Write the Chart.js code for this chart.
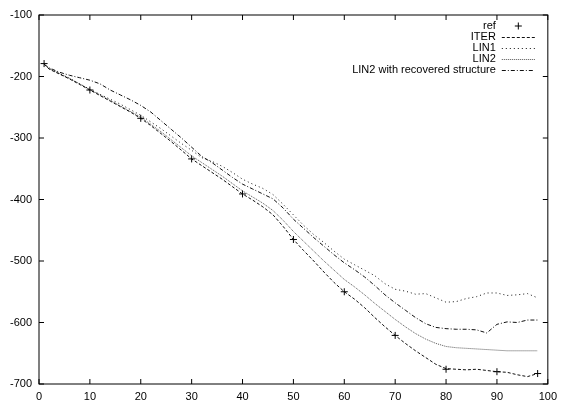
<!DOCTYPE html>
<html>
<head>
<meta charset="utf-8">
<script src="https://cdn.jsdelivr.net/npm/chart.js@4.4.1/dist/chart.umd.min.js"></script>
<style>
  html, body { margin: 0; padding: 0; background: #fff; }
</style>
</head>
<body>
<canvas id="chart" width="563" height="400"></canvas>
<script>
// x positions shared by the four curves
const xs = [1, 2, 4, 6, 8, 10, 12, 14, 16, 18, 20, 22, 24, 26, 28, 30, 32, 34, 36, 38, 40,
  42, 44, 46, 48, 50, 52, 54, 56, 58, 60, 62, 64, 66, 68, 70, 72, 74, 76, 78, 80,
  82, 84, 86, 88, 90, 92, 94, 96, 98];

const iterY = [-180, -188, -196, -204, -213, -222, -231, -240, -249, -258, -268, -280, -293, -306, -320, -334, -345, -356, -367, -379, -391,
  -401, -412, -425, -444, -465, -483, -500, -518, -535, -550, -562, -576, -592, -607, -621, -634, -646, -657, -668, -675,
  -676, -677, -676, -678, -680, -681, -685, -688, -683];

const lin1Y = [-180, -187, -195, -203, -212, -221, -229, -237, -245, -254, -263, -274, -285, -297, -309, -320, -332, -338, -346, -356, -367,
  -375, -382, -392, -408, -425, -442, -457, -470, -484, -497, -506, -515, -524, -537, -546, -549, -554, -553, -560, -567,
  -566, -561, -558, -552, -552, -556, -555, -553, -560];

const lin2Y = [-180, -187, -195, -203, -212, -221, -230, -239, -248, -257, -266, -278, -290, -303, -316, -329, -340, -351, -362, -374, -386,
  -396, -406, -418, -434, -452, -468, -484, -500, -515, -530, -542, -555, -569, -582, -595, -607, -618, -627, -634, -639,
  -641, -642, -643, -644, -645, -646, -646, -646, -646];

const lin2rY = [-180, -186, -193, -198, -202, -206, -212, -222, -230, -238, -247, -258, -272, -286, -300, -315, -330, -340, -352, -364, -375,
  -383, -391, -399, -414, -432, -447, -462, -476, -490, -503, -514, -526, -540, -555, -568, -580, -592, -602, -608, -610,
  -611, -611, -612, -617, -603, -599, -600, -596, -596];

const refX = [1, 10, 20, 30, 40, 50, 60, 70, 80, 90, 98];
const refY = [-179, -222, -268, -334, -391, -465, -550, -621, -676, -680, -683];

const xTicks = [0, 10, 20, 30, 40, 50, 60, 70, 80, 90, 100];
const yTicks = [-700, -600, -500, -400, -300, -200, -100];

const FONT = '"Liberation Sans", Arial, Helvetica, sans-serif';

function pts(xv, yv) { return xv.map((x, i) => ({ x, y: yv[i] })); }

function lineSet(label, data, dash, color) {
  return { label, data, borderColor: color, borderWidth: 1, borderDash: dash, pointRadius: 0, fill: false, tension: 0 };
}

const datasets = [
  { label: "ref", data: pts(refX, refY), showLine: false, pointStyle: "cross", pointRadius: 3.5, borderColor: "#000", borderWidth: 1 },
  lineSet("ITER", pts(xs, iterY), [3, 2], "#111"),
  lineSet("LIN1", pts(xs, lin1Y), [1, 3], "#111"),
  lineSet("LIN2", pts(xs, lin2Y), [1, 1], "#555"),
  lineSet("LIN2 with recovered structure", pts(xs, lin2rY), [4, 2, 1, 2], "#111"),
];

// gnuplot style frame: full box with inward ticks on all sides
const framePlugin = {
  id: "frame",
  afterDraw(chart) {
    const { ctx, chartArea: a, scales } = chart;
    ctx.save();
    ctx.strokeStyle = "#000";
    ctx.lineWidth = 1;
    ctx.setLineDash([]);
    ctx.strokeRect(a.left, a.top, a.right - a.left, a.bottom - a.top);
    const tl = 5;
    ctx.beginPath();
    for (const v of xTicks) {
      const p = scales.x.getPixelForValue(v);
      ctx.moveTo(p, a.bottom); ctx.lineTo(p, a.bottom - tl);
      ctx.moveTo(p, a.top); ctx.lineTo(p, a.top + tl);
    }
    for (const v of yTicks) {
      const p = scales.y.getPixelForValue(v);
      ctx.moveTo(a.left, p); ctx.lineTo(a.left + tl, p);
      ctx.moveTo(a.right, p); ctx.lineTo(a.right - tl, p);
    }
    ctx.stroke();
    ctx.restore();
  }
};

// legend in the top right corner, text right aligned before the sample
const keyPlugin = {
  id: "key",
  afterDraw(chart) {
    const { ctx, chartArea: a } = chart;
    const textRight = a.right - 52, s0 = a.right - 46, s1 = a.right - 13;
    ctx.save();
    ctx.font = "11px " + FONT;
    ctx.textAlign = "right";
    ctx.textBaseline = "middle";
    chart.data.datasets.forEach((ds, i) => {
      const y = a.top + 11 + i * 11;
      ctx.fillStyle = "#000";
      ctx.fillText(ds.label, textRight, y);
      ctx.strokeStyle = ds.borderColor;
      ctx.lineWidth = 1;
      ctx.beginPath();
      if (ds.showLine === false) {
        const cx = (s0 + s1) / 2, r = 3.5;
        ctx.setLineDash([]);
        ctx.moveTo(cx - r, y); ctx.lineTo(cx + r, y);
        ctx.moveTo(cx, y - r); ctx.lineTo(cx, y + r);
      } else {
        ctx.setLineDash(ds.borderDash || []);
        ctx.moveTo(s0, y + 0.5); ctx.lineTo(s1, y + 0.5);
      }
      ctx.stroke();
    });
    ctx.restore();
  }
};

new Chart(document.getElementById("chart"), {
  type: "line",
  data: { datasets },
  plugins: [framePlugin, keyPlugin],
  options: {
    responsive: false,
    animation: false,
    layout: { padding: { top: 15, right: 10, left: 0, bottom: 0 } },
    plugins: { legend: { display: false }, tooltip: { enabled: false } },
    scales: {
      x: {
        type: "linear", min: 0, max: 100,
        afterBuildTicks: s => { s.ticks = xTicks.map(v => ({ value: v })); },
        afterFit: s => { s.height = 16; },
        grid: { display: false, drawTicks: false },
        border: { display: false },
        ticks: { color: "#000", padding: 6, maxRotation: 0, font: { family: FONT, size: 11 } },
      },
      y: {
        type: "linear", min: -700, max: -100,
        afterBuildTicks: s => { s.ticks = yTicks.map(v => ({ value: v })); },
        afterFit: s => { s.width = 39; },
        grid: { display: false, drawTicks: false },
        border: { display: false },
        ticks: { color: "#000", padding: 7, font: { family: FONT, size: 11 } },
      },
    },
  },
});
</script>
</body>
</html>
